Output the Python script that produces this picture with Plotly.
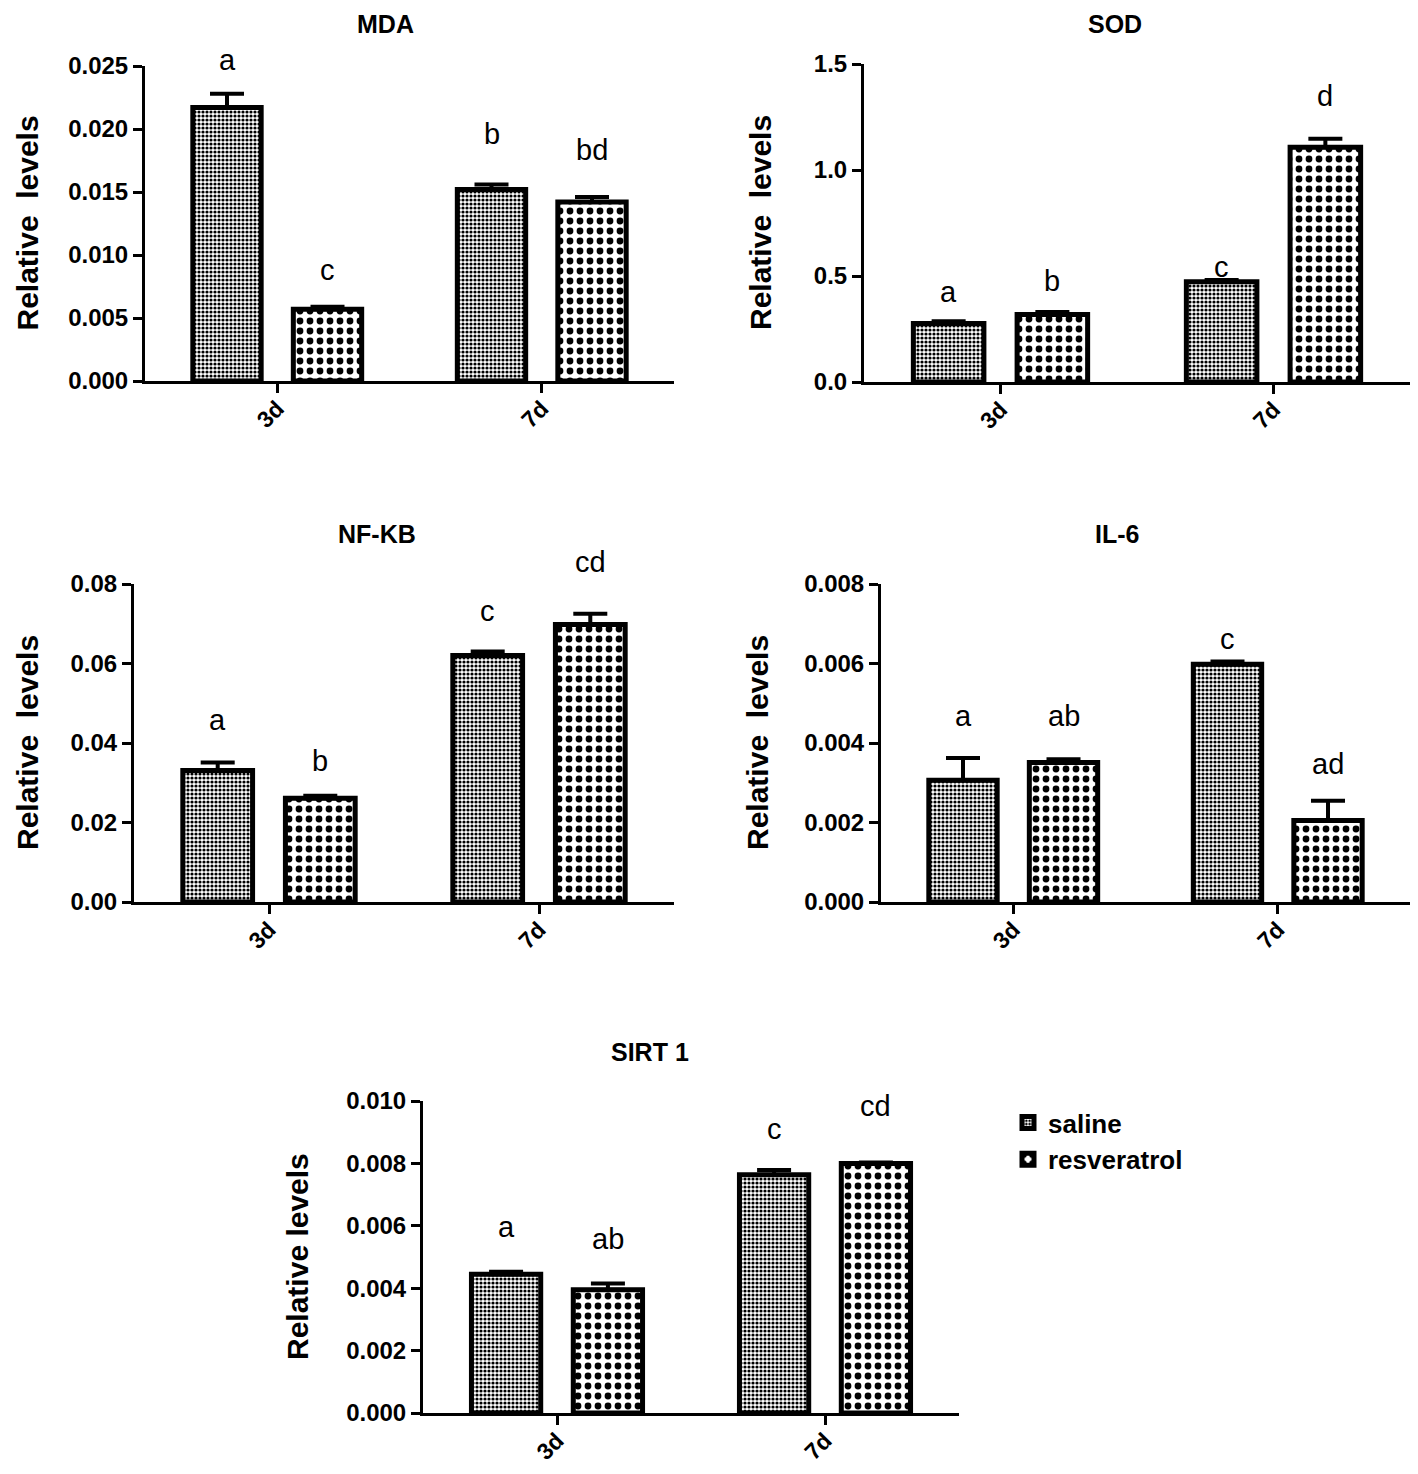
import plotly.graph_objects as go

# ---------------- data ----------------
categories = ["3d", "7d"]
groups = ["saline", "resveratrol"]

panel_titles = ["MDA", "SOD", "NF-KB", "IL-6", "SIRT 1"]

mda_saline = [0.0217, 0.0152]
mda_saline_err = [0.0011, 0.0004]
mda_resv = [0.0057, 0.0142]
mda_resv_err = [0.0002, 0.0004]
mda_letters_saline = ["a", "b"]
mda_letters_resv = ["c", "bd"]

sod_saline = [0.276, 0.473]
sod_saline_err = [0.010, 0.008]
sod_resv = [0.318, 1.107]
sod_resv_err = [0.012, 0.040]
sod_letters_saline = ["a", "c"]
sod_letters_resv = ["b", "d"]

nfkb_saline = [0.0331, 0.0620]
nfkb_saline_err = [0.0020, 0.0010]
nfkb_resv = [0.0261, 0.0698]
nfkb_resv_err = [0.0006, 0.0027]
nfkb_letters_saline = ["a", "c"]
nfkb_letters_resv = ["b", "cd"]

il6_saline = [0.00306, 0.00598]
il6_saline_err = [0.00056, 0.00007]
il6_resv = [0.00351, 0.00205]
il6_resv_err = [0.00008, 0.00050]
il6_letters_saline = ["a", "c"]
il6_letters_resv = ["ab", "ad"]

sirt_saline = [0.00445, 0.00764]
sirt_saline_err = [0.00008, 0.00015]
sirt_resv = [0.00395, 0.00800]
sirt_resv_err = [0.00020, 0.00003]
sirt_letters_saline = ["a", "c"]
sirt_letters_resv = ["ab", "cd"]

y_ranges = [[0, 0.025], [0, 1.5], [0, 0.08], [0, 0.008], [0, 0.010]]
y_dticks = [0.005, 0.5, 0.02, 0.002, 0.002]
y_formats = [".3f", ".1f", ".2f", ".3f", ".3f"]
y_titles = ["Relative\u00a0 levels", "Relative\u00a0 levels", "Relative\u00a0 levels",
            "Relative\u00a0 levels", "Relative levels"]

panels = [
    (mda_saline, mda_saline_err, mda_resv, mda_resv_err, mda_letters_saline, mda_letters_resv),
    (sod_saline, sod_saline_err, sod_resv, sod_resv_err, sod_letters_saline, sod_letters_resv),
    (nfkb_saline, nfkb_saline_err, nfkb_resv, nfkb_resv_err, nfkb_letters_saline, nfkb_letters_resv),
    (il6_saline, il6_saline_err, il6_resv, il6_resv_err, il6_letters_saline, il6_letters_resv),
    (sirt_saline, sirt_saline_err, sirt_resv, sirt_resv_err, sirt_letters_saline, sirt_letters_resv),
]

# ---------------- layout / style ----------------
PAGE_MARGIN = 8          # default body margin of the html page
W, H = 1418 - 2 * PAGE_MARGIN, 1474 - 2 * PAGE_MARGIN
SX_A = 2.0

# target boxes of plot areas in page pixels: (left, right, top, bottom)
boxes = [
    (143, 672, 66, 381),
    (862, 1412, 64, 382),
    (132, 672, 584, 902),
    (879, 1412, 584, 902),
    (421, 957, 1101, 1413),
]
title_pos = [(383, 24), (1113, 24), (375, 534), (1115, 534), (648, 1052)]
ytitle_page_x = [27, 760, 27, 757, 297]
# pixel shifts of letters above error caps: (saline, resveratrol) per category
letter_shift = [
    ([34, 50], [37, 47]),
    ([29, 13], [31, 43]),
    ([42, 41], [35, 52]),
    ([42, 23], [43, 37]),
    ([45, 41], [45, 56]),
]

FONT = "Liberation Sans, Arial, sans-serif"
bar_off = 0.19

def clamp(v):
    return max(0.0, min(1.0, v))

def px_x(p):
    return clamp((p + SX_A - PAGE_MARGIN) / W)

def px_y(p):
    return clamp(1 - (p - PAGE_MARGIN) / H)

fig = go.Figure()
annotations = []
layout_axes = {}

pat_saline = dict(shape=".", size=4, solidity=0.5, fgcolor="black", bgcolor="white", fillmode="replace")
pat_resv = dict(shape=".", size=10, solidity=0.36, fgcolor="black", bgcolor="white", fillmode="replace")

for i, (s, se, r, re_, ls, lr) in enumerate(panels):
    n = "" if i == 0 else str(i + 1)
    xa, ya = "x" + n, "y" + n
    fig.add_trace(go.Bar(
        x=list(range(len(categories))), y=s, name=groups[0], xaxis=xa, yaxis=ya,
        marker=dict(color="white", line=dict(color="black", width=5), pattern=pat_saline),
        error_y=dict(type="data", array=se, arrayminus=[0] * len(se), symmetric=False,
                     color="black", thickness=4, width=17),
        showlegend=(i == 4), legendgroup="g1",
    ))
    fig.add_trace(go.Bar(
        x=list(range(len(categories))), y=r, name=groups[1], xaxis=xa, yaxis=ya,
        marker=dict(color="white", line=dict(color="black", width=5), pattern=pat_resv),
        error_y=dict(type="data", array=re_, arrayminus=[0] * len(re_), symmetric=False,
                     color="black", thickness=4, width=17),
        showlegend=(i == 4), legendgroup="g2",
    ))
    L, R, T, B = boxes[i]
    layout_axes["xaxis" + n] = dict(
        domain=[px_x(L), px_x(R)], anchor=ya, range=[-0.5, 1.5], automargin=False,
        tickmode="array", tickvals=list(range(len(categories))), ticktext=categories,
        tickangle=-45, ticks="outside", ticklen=9, tickwidth=3, tickcolor="black",
        ticklabelstandoff=-7,
        showline=True, linecolor="black", linewidth=3, showgrid=False, zeroline=False,
        tickfont=dict(family=FONT, size=23, color="black", weight="bold"),
    )
    layout_axes["yaxis" + n] = dict(
        domain=[px_y(B), px_y(T)], anchor=xa, range=y_ranges[i], dtick=y_dticks[i],
        automargin=False,
        tick0=0, tickformat=y_formats[i], ticks="outside", ticklen=9, tickwidth=3,
        tickcolor="black", showline=True, linecolor="black", linewidth=3,
        showgrid=False, zeroline=False,
        tickfont=dict(family=FONT, size=24, color="black", weight="bold"),
    )
    tx_, ty_ = title_pos[i]
    annotations.append(dict(
        text=panel_titles[i], x=px_x(tx_), y=px_y(ty_), xref="paper", yref="paper",
        showarrow=False, xanchor="center", yanchor="middle",
        font=dict(family=FONT, size=25, color="black", weight="bold"),
    ))
    annotations.append(dict(
        text=y_titles[i], x=clamp((ytitle_page_x[i] - PAGE_MARGIN) / W), y=px_y((T + B) / 2),
        xref="paper", yref="paper",
        showarrow=False, xanchor="center", yanchor="middle", textangle=-90,
        font=dict(family=FONT, size=30, color="black", weight="bold"),
    ))
    for j in range(len(categories)):
        for vals, errs, lets, off, k in ((s, se, ls, -bar_off, 0), (r, re_, lr, bar_off, 1)):
            annotations.append(dict(
                text=lets[j], x=j + off, y=vals[j] + errs[j], xref=xa, yref=ya,
                showarrow=False, xanchor="center", yanchor="middle",
                yshift=letter_shift[i][k][j],
                font=dict(family=FONT, size=29, color="black"),
            ))

fig.update_layout(
    width=W, height=H, autosize=False,
    margin=dict(l=0, r=0, t=0, b=0, autoexpand=False),
    paper_bgcolor="white", plot_bgcolor="white",
    barmode="group", bargap=0.24, bargroupgap=0.32,
    annotations=annotations,
    legend=dict(x=px_x(1006), y=px_y(1099), xanchor="left", yanchor="top",
                font=dict(family=FONT, size=26, color="black", weight="bold"),
                bgcolor="rgba(0,0,0,0)", traceorder="normal", tracegroupgap=4),
    **layout_axes,
)

fig.write_html("out.html")
